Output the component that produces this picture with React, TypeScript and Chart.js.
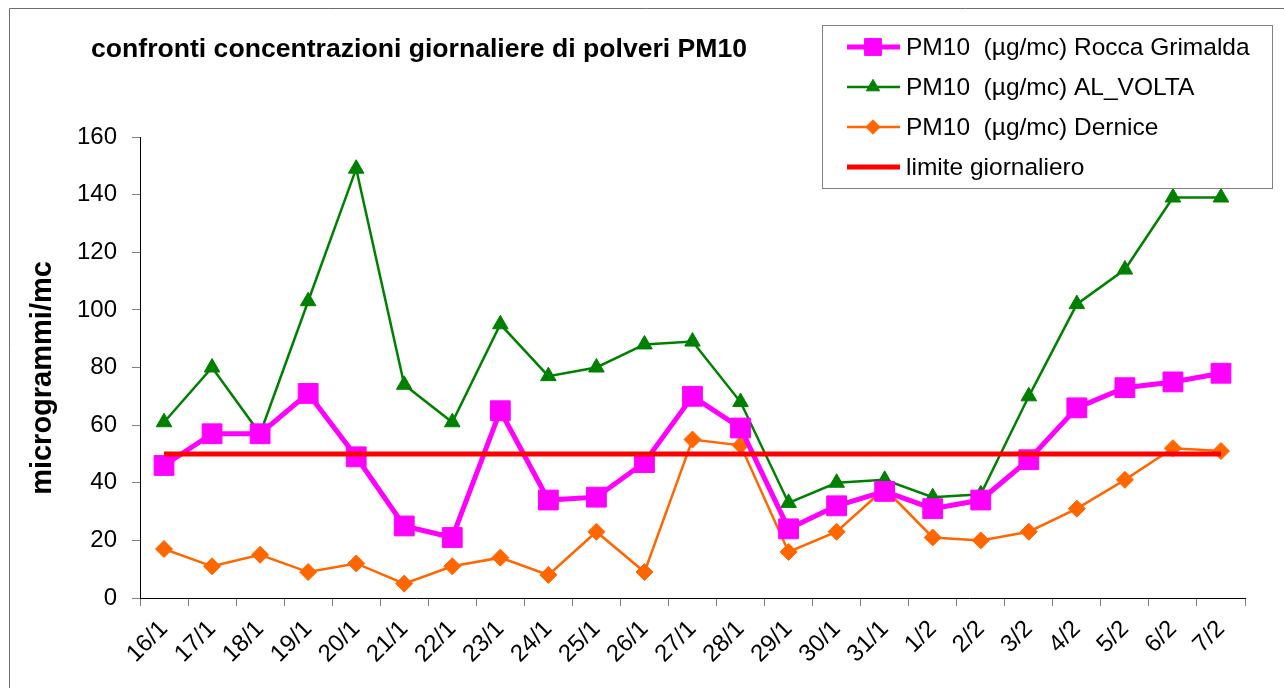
import React, { useEffect, useRef } from 'react';
import { Chart, registerables } from 'chart.js';
import { drawPoint } from 'chart.js/helpers';

Chart.register(...registerables);

const categories = ['16/1', '17/1', '18/1', '19/1', '20/1', '21/1', '22/1', '23/1', '24/1', '25/1', '26/1', '27/1', '28/1', '29/1', '30/1', '31/1', '1/2', '2/2', '3/2', '4/2', '5/2', '6/2', '7/2'];
const roccaGrimalda = [46, 57, 57, 71, 49, 25, 21, 65, 34, 35, 47, 70, 59, 24, 32, 37, 31, 34, 48, 66, 73, 75, 78];
const alVolta = [61, 80, 57, 103, 149, 74, 61, 95, 77, 80, 88, 89, 68, 33, 40, 41, 35, 36, 70, 102, 114, 139, 139];
const dernice = [17, 11, 15, 9, 12, 5, 11, 14, 8, 23, 9, 55, 53, 16, 23, 38, 21, 20, 23, 31, 41, 52, 51];
const limiteGiornaliero = [50, 50, 50, 50, 50, 50, 50, 50, 50, 50, 50, 50, 50, 50, 50, 50, 50, 50, 50, 50, 50, 50, 50];
const seriesLabels = ['PM10  (µg/mc) Rocca Grimalda', 'PM10  (µg/mc) AL_VOLTA', 'PM10  (µg/mc) Dernice', 'limite giornaliero'];
const yMin = 0;
const yMax = 160;
const yStep = 20;
const chartTitle = 'confronti concentrazioni giornaliere di polveri PM10';
const yAxisTitle = 'microgrammi/mc';

const FONT = '"Liberation Sans", Arial, sans-serif';

const decorPlugin = {
  id: 'decor',
  beforeDraw(chart: any) {
    const ctx = chart.ctx;
    ctx.save();
    ctx.fillStyle = '#ffffff';
    ctx.fillRect(0, 0, chart.width, chart.height);
    ctx.strokeStyle = '#6e6e6e';
    ctx.lineWidth = 1;
    ctx.beginPath();
    ctx.moveTo(9.5, chart.height);
    ctx.lineTo(9.5, 8.5);
    ctx.lineTo(chart.width, 8.5);
    ctx.stroke();
    ctx.restore();
  },
  afterDraw(chart: any) {
    const ctx = chart.ctx;
    ctx.save();
    // chart title
    ctx.fillStyle = '#000';
    ctx.font = `bold 26.6px ${FONT}`;
    ctx.textAlign = 'left';
    ctx.textBaseline = 'middle';
    ctx.fillText(chartTitle, 91, 50);
    // y axis title
    ctx.save();
    ctx.translate(43, 378);
    ctx.rotate(-Math.PI / 2);
    ctx.font = `bold 29px ${FONT}`;
    ctx.textAlign = 'center';
    ctx.textBaseline = 'middle';
    ctx.fillText(yAxisTitle, 0, 0);
    ctx.restore();
    // legend
    const bx = 822.5, by = 25.5, bw = 450, bh = 163;
    ctx.fillStyle = '#fff';
    ctx.fillRect(bx, by, bw, bh);
    ctx.strokeStyle = '#808080';
    ctx.lineWidth = 1;
    ctx.strokeRect(bx, by, bw, bh);
    ctx.font = `24.5px ${FONT}`;
    ctx.textBaseline = 'middle';
    ctx.textAlign = 'left';
    chart.data.datasets.forEach((ds: any, i: number) => {
      const y = 47 + i * 40;
      ctx.strokeStyle = ds.borderColor;
      ctx.lineWidth = ds.borderWidth;
      ctx.beginPath();
      ctx.moveTo(847, y);
      ctx.lineTo(900, y);
      ctx.stroke();
      if (ds.pointRadius > 0) {
        ctx.fillStyle = ds.pointBackgroundColor;
        ctx.strokeStyle = ds.pointBorderColor;
        ctx.lineWidth = 1;
        drawPoint(ctx, { pointStyle: ds.pointStyle, radius: ds.pointRadius * 0.85, rotation: 0, borderWidth: 1 }, 873, y);
      }
      ctx.fillStyle = '#000';
      ctx.fillText(seriesLabels[i], 906, y + 1);
    });
    ctx.restore();
  },
};

export default function App() {
  const ref = useRef<HTMLCanvasElement>(null);
  useEffect(() => {
    if (!ref.current) return;
    const chart = new Chart(ref.current, {
      type: 'line',
      data: {
        labels: categories,
        datasets: [
          {
            label: seriesLabels[0],
            data: roccaGrimalda,
            borderColor: '#ff00ff',
            backgroundColor: '#ff00ff',
            borderWidth: 5,
            pointStyle: 'rect',
            pointRadius: 14,
            pointBackgroundColor: '#ff00ff',
            pointBorderColor: '#ff00ff',
            pointBorderWidth: 1,
            tension: 0,
            order: 1,
          },
          {
            label: seriesLabels[1],
            data: alVolta,
            borderColor: '#008000',
            backgroundColor: '#008000',
            borderWidth: 2.5,
            pointStyle: 'triangle',
            pointRadius: 9,
            pointBackgroundColor: '#008000',
            pointBorderColor: '#008000',
            pointBorderWidth: 1,
            tension: 0,
            order: 2,
          },
          {
            label: seriesLabels[2],
            data: dernice,
            borderColor: '#ff6600',
            backgroundColor: '#ff6600',
            borderWidth: 2.5,
            pointStyle: 'rectRot',
            pointRadius: 8.5,
            pointBackgroundColor: '#ff6600',
            pointBorderColor: '#ff6600',
            pointBorderWidth: 1,
            tension: 0,
            order: 3,
          },
          {
            label: seriesLabels[3],
            data: limiteGiornaliero,
            borderColor: '#ff0000',
            backgroundColor: '#ff0000',
            borderWidth: 5,
            pointRadius: 0,
            pointHoverRadius: 0,
            tension: 0,
            order: 0,
          },
        ],
      },
      options: {
        animation: false,
        responsive: false,
        maintainAspectRatio: false,
        devicePixelRatio: 1,
        events: [],
        layout: { padding: { left: 0, top: 137, right: 39, bottom: 0 } },
        plugins: {
          legend: { display: false },
          title: { display: false },
          tooltip: { enabled: false },
        },
        scales: {
          x: {
            type: 'category',
            offset: true,
            grid: {
              offset: true,
              drawOnChartArea: false,
              drawTicks: true,
              tickLength: 8,
              color: '#808080',
            },
            border: { color: '#000', width: 1 },
            ticks: {
              color: '#000',
              font: { family: FONT, size: 24 },
              minRotation: 45,
              maxRotation: 45,
              autoSkip: false,
              padding: 9,
            },
            afterFit: (s: any) => {
              s.height = 90;
            },
          },
          y: {
            min: yMin,
            max: yMax,
            grid: {
              drawOnChartArea: false,
              drawTicks: true,
              tickLength: 8,
              color: '#808080',
            },
            border: { color: '#000', width: 1 },
            ticks: {
              stepSize: yStep,
              color: '#000',
              font: { family: FONT, size: 24 },
              padding: 15,
            },
            afterFit: (s: any) => {
              s.width = 140;
            },
          },
        },
      },
      plugins: [decorPlugin],
    });
    return () => chart.destroy();
  }, []);
  return (
    <div style={{ position: 'absolute', left: 0, top: 0, width: 1284, height: 688 }}>
      <canvas ref={ref} width={1284} height={688} style={{ width: 1284, height: 688, display: 'block' }} />
    </div>
  );
}
